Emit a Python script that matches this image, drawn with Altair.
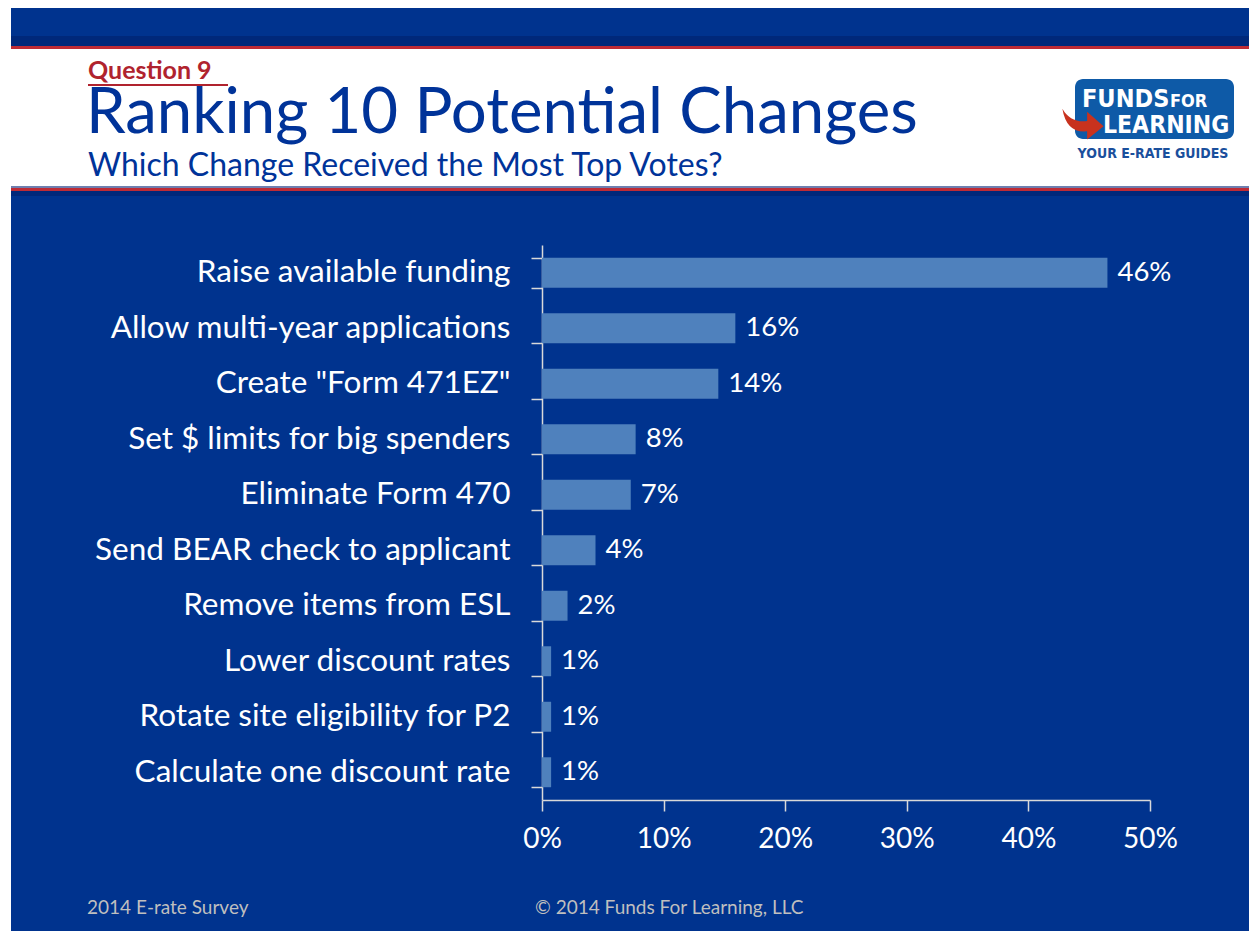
import altair as alt
import pandas as pd

categories = [
    "Raise available funding",
    "Allow multi-year applications",
    'Create "Form 471EZ"',
    "Set $ limits for big spenders",
    "Eliminate Form 470",
    "Send BEAR check to applicant",
    "Remove items from ESL",
    "Lower discount rates",
    "Rotate site eligibility for P2",
    "Calculate one discount rate",
]
values = [46.5, 15.9, 14.5, 7.7, 7.3, 4.4, 2.1, 0.75, 0.75, 0.75]
labels = ["46%", "16%", "14%", "8%", "7%", "4%", "2%", "1%", "1%", "1%"]
x_ticks = [0, 10, 20, 30, 40, 50]

title_text = "Ranking 10 Potential Changes"
question_text = "Question 9"
subtitle_text = "Which Change Received the Most Top Votes?"
footer_left = "2014 E-rate Survey"
footer_right = "\u00a9 2014 Funds For Learning, LLC"

df = pd.DataFrame({"cat": categories, "val": values, "lab": labels})

BG = "#00338E"
BAR = "#4F81BD"
RED = "#BE2B35"
FONT = "Lato"
LOGO_FONT = "Liberation Sans Narrow, DejaVu Sans Condensed, Roboto"

# plot area origin on page = (542, 245); chart origin = (8, 8)
OX, OY = 542, 245
W, H = 608, 555
CW, CH = 1241, 923
PL, PT = OX - 8, OY - 8
PR = CW - PL - W
PB = CH - PT - H


def px(v):
    return v - OX


def py(v):
    return v - OY


one = alt.Data(values=[{"a": 1}])


def rect(x1, x2, y1, y2, color, **kw):
    return alt.Chart(one).mark_rect(color=color, **kw).encode(
        x=alt.value(px(x1)), x2=alt.value(px(x2)),
        y=alt.value(py(y1)), y2=alt.value(py(y2)))


def text(x, y, t, size, color, weight="normal", align="left", font=FONT, baseline="alphabetic"):
    return alt.Chart(one).mark_text(
        text=t, fontSize=size, color=color, fontWeight=weight, align=align,
        baseline=baseline, font=font).encode(x=alt.value(px(x)), y=alt.value(py(y)))


deco = [
    rect(8, 11, 0, 939, "white"),
    rect(11, 1257, 36, 46, "#00287A"),
    rect(11, 1257, 46, 49, RED),
    rect(11, 1257, 49, 186, "white"),
    rect(11, 1257, 186, 188, "#6E7FAF"),
    rect(11, 1257, 188, 191, RED),
    rect(11, 1257, 191, 196, "#00287A"),
    text(88, 79, question_text, 25, "#B0232E", weight="bold"),
    rect(88, 228, 84, 86, "#B0232E"),
    text(86, 133, title_text, 63.5, "#003399"),
    text(88, 176, subtitle_text, 32, "#003399"),
    # logo
    alt.Chart(one).mark_rect(color="#0E5AA7", cornerRadius=8).encode(
        x=alt.value(px(1075)), x2=alt.value(px(1234)),
        y=alt.value(py(79)), y2=alt.value(py(139))),
    text(1082, 107, "FUNDS", 25, "white", weight="bold", font=LOGO_FONT),
    text(1170, 107, "FOR", 18, "white", weight="bold", font=LOGO_FONT),
    text(1103, 133, "LEARNING", 24.5, "white", weight="bold", font=LOGO_FONT),
    text(1153, 158, "YOUR E-RATE GUIDES", 14, "#1A4F9C", weight="bold", align="center", font=LOGO_FONT),
    alt.Chart(one).mark_point(
        shape="M -1 -0.6 Q -0.6 0.1 0.2 0.0 L 0.2 -0.45 L 1 0.25 L 0.2 0.9 L 0.2 0.5 Q -0.8 0.6 -1 -0.6 Z",
        filled=True, color="#C8321E", opacity=1, size=1700).encode(
        x=alt.value(px(1083)), y=alt.value(py(121))),
    text(87, 914, footer_left, 19, "#BFBFBF"),
    text(535, 914, footer_right, 19, "#BFBFBF"),
]

y_enc = alt.Y("cat:N", sort=categories, title=None,
              scale=alt.Scale(paddingInner=0.46, paddingOuter=0.23),
              axis=alt.Axis(tickBand="extent", domainColor="#D9D9D9", tickColor="#D9D9D9",
                            tickSize=11, labelFontSize=31.5, labelColor="white", labelFont=FONT,
                            labelPadding=21, labelLimit=500, domainWidth=1.5, tickWidth=1.5))
x_enc = alt.X("val:Q", title=None, scale=alt.Scale(domain=[0, 50], nice=False),
              axis=alt.Axis(values=x_ticks, labelExpr="datum.value + '%'", grid=False,
                            labelFlush=False,
                            domainColor="#D9D9D9", tickColor="#D9D9D9", tickSize=11,
                            labelFontSize=28, labelColor="white", labelFont=FONT,
                            labelPadding=14, domainWidth=1.5, tickWidth=1.5))

bars = alt.Chart(df).mark_bar(color=BAR).encode(x=x_enc, y=y_enc)
bar_labels = alt.Chart(df).mark_text(align="left", dx=10, fontSize=27.5, color="white",
                                     font=FONT, baseline="middle").encode(
    x="val:Q", y=alt.Y("cat:N", sort=categories), text="lab:N")

chart = alt.layer(*deco, bars, bar_labels).properties(
    width=W, height=H, background=BG,
    autosize=alt.AutoSizeParams(type="none"),
    padding={"left": PL, "top": PT, "right": PR, "bottom": PB},
).configure_view(stroke=None)

chart.save("out.html", embed_options={"renderer": "svg", "actions": False})
